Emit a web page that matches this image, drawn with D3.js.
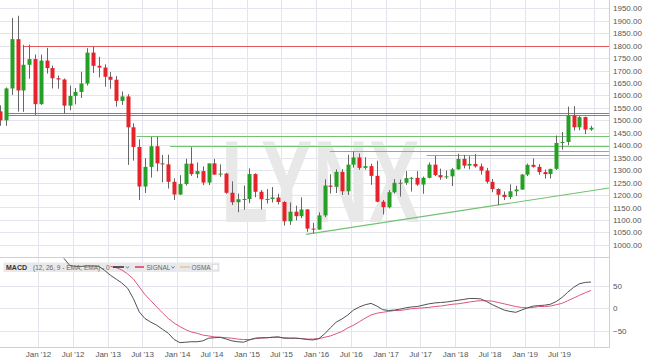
<!DOCTYPE html>
<html>
<head>
<meta charset="utf-8">
<style>
body { margin: 0; background: #fff; width: 645px; height: 363px; overflow: hidden; }
svg { display: block; font-family: "Liberation Sans", Arial, sans-serif; }
.axis path, .axis line { display: none; }
.axis text { fill: #555; font-size: 8px; }
</style>
</head>
<body>
<svg width="645" height="363"></svg>
<script src="https://d3js.org/d3.v7.min.js"></script>
<script>

// monthly candles, Jun 2011 .. Dec 2019
var months = [
  "2011-06","2011-07","2011-08","2011-09","2011-10","2011-11","2011-12",
  "2012-01","2012-02","2012-03","2012-04","2012-05","2012-06","2012-07","2012-08","2012-09","2012-10","2012-11","2012-12",
  "2013-01","2013-02","2013-03","2013-04","2013-05","2013-06","2013-07","2013-08","2013-09","2013-10","2013-11","2013-12",
  "2014-01","2014-02","2014-03","2014-04","2014-05","2014-06","2014-07","2014-08","2014-09","2014-10","2014-11","2014-12",
  "2015-01","2015-02","2015-03","2015-04","2015-05","2015-06","2015-07","2015-08","2015-09","2015-10","2015-11","2015-12",
  "2016-01","2016-02","2016-03","2016-04","2016-05","2016-06","2016-07","2016-08","2016-09","2016-10","2016-11","2016-12",
  "2017-01","2017-02","2017-03","2017-04","2017-05","2017-06","2017-07","2017-08","2017-09","2017-10","2017-11","2017-12",
  "2018-01","2018-02","2018-03","2018-04","2018-05","2018-06","2018-07","2018-08","2018-09","2018-10","2018-11","2018-12",
  "2019-01","2019-02","2019-03","2019-04","2019-05","2019-06","2019-07","2019-08","2019-09","2019-10","2019-11","2019-12"
];
var opens = [
  1536,1500,1628,1826,1620,1723,1746,
  1565,1740,1710,1669,1664,1559,1598,1614,1648,1772,1719,1712,
  1675,1663,1578,1596,1472,1393,1234,1313,1396,1327,1323,1253,
  1202,1244,1326,1284,1296,1250,1327,1282,1286,1209,1171,1183,
  1184,1284,1213,1183,1184,1190,1172,1095,1133,1115,1142,1065,
  1061,1118,1238,1233,1293,1215,1322,1351,1309,1316,1277,1173,
  1151,1211,1249,1249,1268,1269,1242,1269,1322,1280,1271,1275,
  1303,1345,1318,1325,1315,1298,1253,1224,1201,1192,1215,1222,
  1282,1321,1313,1292,1284,1305,1409,1413,1520,1472,1513,1463
];
var highs = [
  1560,1632,1911,1920,1803,1804,1764,
  1764,1791,1720,1680,1668,1640,1630,1695,1790,1796,1755,1725,
  1694,1678,1616,1605,1488,1424,1348,1433,1434,1361,1362,1267,
  1280,1346,1392,1331,1315,1326,1345,1323,1289,1255,1206,1238,
  1307,1287,1220,1224,1232,1205,1175,1170,1157,1191,1143,1088,
  1130,1263,1283,1303,1304,1362,1375,1367,1352,1326,1338,1180,
  1220,1264,1262,1296,1272,1296,1274,1331,1357,1306,1299,1309,
  1366,1361,1356,1365,1326,1309,1265,1227,1214,1243,1237,1284,
  1326,1347,1324,1302,1305,1439,1453,1555,1557,1517,1515,1478
];
var lows = [
  1478,1478,1602,1535,1534,1667,1522,
  1562,1688,1628,1627,1527,1540,1564,1590,1640,1690,1672,1635,
  1627,1555,1562,1321,1338,1180,1208,1270,1295,1251,1226,1180,
  1200,1238,1277,1268,1240,1240,1281,1273,1205,1160,1131,1141,
  1167,1191,1142,1166,1170,1162,1077,1080,1098,1107,1052,1046,
  1061,1111,1206,1208,1200,1200,1310,1301,1302,1241,1171,1122,
  1146,1205,1194,1241,1214,1237,1205,1267,1276,1261,1264,1236,
  1302,1307,1303,1310,1282,1246,1211,1160,1180,1183,1196,1221,
  1276,1310,1281,1266,1267,1301,1382,1400,1459,1460,1445,1458
];
var closes = [
  1500,1628,1826,1620,1723,1746,1565,
  1740,1710,1669,1664,1559,1598,1614,1648,1772,1719,1712,1675,
  1663,1578,1596,1472,1393,1234,1313,1396,1327,1323,1253,1202,
  1244,1326,1284,1296,1250,1327,1282,1286,1209,1171,1183,1184,
  1284,1213,1183,1184,1190,1172,1095,1133,1115,1142,1065,1061,
  1118,1238,1233,1293,1215,1322,1351,1309,1316,1277,1173,1151,
  1211,1249,1249,1268,1269,1242,1269,1322,1280,1271,1275,1303,
  1345,1318,1325,1315,1298,1253,1224,1201,1192,1215,1222,1282,
  1321,1313,1292,1284,1305,1409,1413,1520,1472,1513,1463,1470
];

// MACD (12, 26, 9), from May 2012
var macdStart = "2012-05";
var macdValues = [
  112,96,94,94,95,95,94,85,
  74,65,57,45,22,-8,-23,-31,-38,-47,-56,-70,
  -77,-76,-75,-75,-73,-67,-66,-65,-69,-73,-75,-76,
  -71,-67,-66,-66,-65,-64,-67,-67,-67,-68,-70,-71,
  -68,-57,-44,-31,-24,-15,-4,3,8,11,5,-3,
  -5,-4,-2,1,3,4,7,10,12,13,14,16,
  18,20,22,22,21,15,8,2,-4,-7,-9,-4,
  1,5,6,7,9,15,24,36,47,55,58,59
];
// signal line, from Jan 2013
var signalStart = "2013-01";
var signalValues = [
  94,91,86,77,66,48,31,17,3,-10,-23,-33,
  -41,-48,-53,-56,-60,-62,-64,-65,-66,-67,-69,-70,
  -70,-68,-67,-66,-65,-65,-66,-67,-67,-68,-69,-69,
  -68,-65,-62,-57,-52,-44,-38,-30,-22,-15,-11,-9,
  -7,-5,-5,-3,-1,0,1,2,4,5,7,9,
  10,12,14,16,17,17,16,13,10,7,4,2,
  1,2,4,4,5,8,11,17,23,29,35,40
];

// support / resistance lines drawn on the chart
var redLevels = [1800, 1530, 1520];
var redStarts = ["2011-10-19", "2011-07-20", "2011-07-20"];
var greenLevels = [1437, 1397, 1377, 1360];
var greenStarts = ["2013-06-02", "2013-11-25", "2016-03-14", "2017-08-04"];
var trendDates = ["2015-11-09", "2020-03-20"];
var trendPrices = [1042, 1228];

var tickDates = ["2012-01","2012-07","2013-01","2013-07","2014-01","2014-07","2015-01","2015-07",
                 "2016-01","2016-07","2017-01","2017-07","2018-01","2018-07","2019-01","2019-07"];
var tickLabels = ["Jan '12","Jul '12","Jan '13","Jul '13","Jan '14","Jul '14","Jan '15","Jul '15",
                  "Jan '16","Jul '16","Jan '17","Jul '17","Jan '18","Jul '18","Jan '19","Jul '19"];
var gridDates = tickDates.concat(["2020-01"]);
var priceTicks = [1000,1050,1100,1150,1200,1250,1300,1350,1400,1450,1500,1550,1600,1650,1700,1750,1800,1850,1900,1950];
var macdTicks = [-50, 0, 50];

var svg = d3.select("svg");
var plotR = 609.5,
    mainBot = 258,
    macdTop = 258, macdBot = 348;

var parseMonth = d3.utcParse("%Y-%m"),
    parseDay = d3.utcParse("%Y-%m-%d");
function mid(m) { return d3.utcDay.offset(parseMonth(m), 15); }

var x = d3.scaleUtc()
    .domain([parseMonth("2012-01"), parseMonth("2019-07")])
    .range([38, 559]);
var y = d3.scaleLinear().domain([1000, 1950]).range([244.8, 8.3]);
var ym = d3.scaleLinear().domain([-50, 50]).range([330.6, 286]);

var defs = svg.append("defs");
defs.append("clipPath").attr("id", "clipMain")
  .append("rect").attr("x", 0).attr("y", 0).attr("width", plotR).attr("height", mainBot);
defs.append("clipPath").attr("id", "clipMacd")
  .append("rect").attr("x", 0).attr("y", macdTop).attr("width", plotR).attr("height", macdBot - macdTop);

function crisp(v) { return Math.round(v) + 0.5; }

// grid
var grid = svg.append("g").attr("stroke", "#e4e4ec").attr("stroke-width", 1);
grid.selectAll(".vg").data(gridDates).enter().append("line")
    .attr("x1", function(d) { return crisp(x(parseMonth(d))); })
    .attr("x2", function(d) { return crisp(x(parseMonth(d))); })
    .attr("y1", 0).attr("y2", macdBot);
grid.selectAll(".hg").data(priceTicks).enter().append("line")
    .attr("x1", 0).attr("x2", plotR)
    .attr("y1", function(d) { return crisp(y(d)); })
    .attr("y2", function(d) { return crisp(y(d)); });
grid.selectAll(".mg").data(macdTicks).enter().append("line")
    .attr("x1", 0).attr("x2", plotR)
    .attr("y1", function(d) { return crisp(ym(d)); })
    .attr("y2", function(d) { return crisp(ym(d)); });

// frame
var frame = svg.append("g").attr("stroke", "#cfcfd6").attr("stroke-width", 1).attr("fill", "none");
frame.append("line").attr("x1", 0).attr("x2", plotR).attr("y1", mainBot - 0.5).attr("y2", mainBot - 0.5);
frame.append("line").attr("x1", 0).attr("x2", plotR).attr("y1", macdBot - 0.5).attr("y2", macdBot - 0.5);
frame.append("line").attr("x1", plotR).attr("x2", plotR).attr("y1", 0).attr("y2", macdBot);

// watermark
svg.append("text")
    .attr("x", 221).attr("y", 222)
    .attr("textLength", 199).attr("lengthAdjust", "spacingAndGlyphs")
    .attr("font-size", 117).attr("font-weight", "bold")
    .attr("fill", "#e8e8e8")
    .text("LYNX");

var main = svg.append("g").attr("clip-path", "url(#clipMain)");

// level lines
main.selectAll(".red").data(redLevels).enter().append("line")
    .attr("x1", function(d, i) { return x(parseDay(redStarts[i])); })
    .attr("x2", plotR)
    .attr("y1", function(d) { return crisp(y(d)); })
    .attr("y2", function(d) { return crisp(y(d)); })
    .attr("stroke", "#e25a5a").attr("stroke-width", 1);
main.selectAll(".green").data(greenLevels).enter().append("line")
    .attr("x1", function(d, i) { return x(parseDay(greenStarts[i])); })
    .attr("x2", plotR)
    .attr("y1", function(d) { return crisp(y(d)); })
    .attr("y2", function(d) { return crisp(y(d)); })
    .attr("stroke", "#72c272").attr("stroke-width", 1);
main.append("line")
    .attr("x1", x(parseDay(trendDates[0]))).attr("y1", y(trendPrices[0]))
    .attr("x2", x(parseDay(trendDates[1]))).attr("y2", y(trendPrices[1]))
    .attr("stroke", "#72c272").attr("stroke-width", 1.1);

// candles
var candles = months.map(function(m, i) {
  return { date: mid(m), o: opens[i], h: highs[i], l: lows[i], c: closes[i] };
});
var cw = 4;
var cg = main.selectAll(".candle").data(candles).enter().append("g");
cg.append("line")
    .attr("x1", function(d) { return crisp(x(d.date)); })
    .attr("x2", function(d) { return crisp(x(d.date)); })
    .attr("y1", function(d) { return y(d.h); })
    .attr("y2", function(d) { return y(d.l); })
    .attr("stroke", "#666").attr("stroke-width", 1);
cg.append("rect")
    .attr("x", function(d) { return Math.round(x(d.date)) - cw / 2 + 0.5; })
    .attr("width", cw)
    .attr("y", function(d) { return y(Math.max(d.o, d.c)); })
    .attr("height", function(d) { return Math.max(1, Math.abs(y(d.o) - y(d.c))); })
    .attr("fill", function(d) { return d.c >= d.o ? "#25a025" : "#e6222a"; });

// MACD panel legend
var lg = svg.append("g");
lg.append("rect").attr("x", 3.5).attr("y", 262.5).attr("width", 216).attr("height", 9.5).attr("fill", "#e9e9ec");

var macdPanel = svg.append("g").attr("clip-path", "url(#clipMacd)");
var line = d3.line()
    .x(function(d) { return x(d.date); })
    .y(function(d) { return ym(d.v); });
var mi = months.indexOf(macdStart), si = months.indexOf(signalStart);
var macdSeries = macdValues.map(function(v, i) { return { date: mid(months[mi + i]), v: v }; });
var signalSeries = signalValues.map(function(v, i) { return { date: mid(months[si + i]), v: v }; });
macdPanel.append("path").datum(signalSeries).attr("d", line)
    .attr("fill", "none").attr("stroke", "#d9587a").attr("stroke-width", 1);
macdPanel.append("path").datum(macdSeries).attr("d", line)
    .attr("fill", "none").attr("stroke", "#505050").attr("stroke-width", 1);

var lt = svg.append("g").attr("font-size", 6.5).attr("fill", "#666");
lt.append("text").attr("x", 6).attr("y", 269.8).attr("font-weight", "bold").attr("font-size", 7).attr("fill", "#333").text("MACD");
lt.append("text").attr("x", 33).attr("y", 269.5).text("(12, 26, 9 - EMA, EMA) - 0");
lt.append("line").attr("x1", 113).attr("x2", 124).attr("y1", 267).attr("y2", 267).attr("stroke", "#333").attr("stroke-width", 1.6);
lt.append("line").attr("x1", 135).attr("x2", 144).attr("y1", 267).attr("y2", 267).attr("stroke", "#d9406a").attr("stroke-width", 1.6);
lt.append("text").attr("x", 146.5).attr("y", 269.5).text("SIGNAL");
lt.append("line").attr("x1", 180).attr("x2", 190).attr("y1", 267).attr("y2", 267).attr("stroke", "#e3c89c").attr("stroke-width", 1.6);
lt.append("text").attr("x", 191.5).attr("y", 269.5).text("OSMA");
[127.5, 173].forEach(function(cx) {
  lt.append("path").attr("d", "M" + (cx - 1.5) + ",266.3 L" + cx + ",268.3 L" + (cx + 1.5) + ",266.3")
    .attr("fill", "none").attr("stroke", "#4a7fc0").attr("stroke-width", 0.9);
});
lt.append("rect").attr("x", 212.5).attr("y", 264.5).attr("width", 5.5).attr("height", 5.5)
    .attr("fill", "#fff").attr("stroke", "#d0d0d0").attr("stroke-width", 0.6);

// axes
svg.append("g").attr("class", "axis")
    .attr("transform", "translate(" + plotR + ",0)")
    .call(d3.axisRight(y).tickValues(priceTicks).tickFormat(d3.format(".2f")).tickSize(0).tickPadding(3.5));
svg.append("g").attr("class", "axis")
    .attr("transform", "translate(" + plotR + ",0)")
    .call(d3.axisRight(ym).tickValues(macdTicks).tickFormat(d3.format("d")).tickSize(0).tickPadding(3.5));
svg.append("g").attr("class", "axis")
    .attr("transform", "translate(0," + macdBot + ")")
    .call(d3.axisBottom(x).tickValues(tickDates.map(parseMonth))
      .tickFormat(function(d, i) { return tickLabels[i]; }).tickSize(0).tickPadding(3.5));
svg.selectAll(".axis text").attr("font-family", "'Liberation Sans', Arial, sans-serif");

</script>
</body>
</html>
